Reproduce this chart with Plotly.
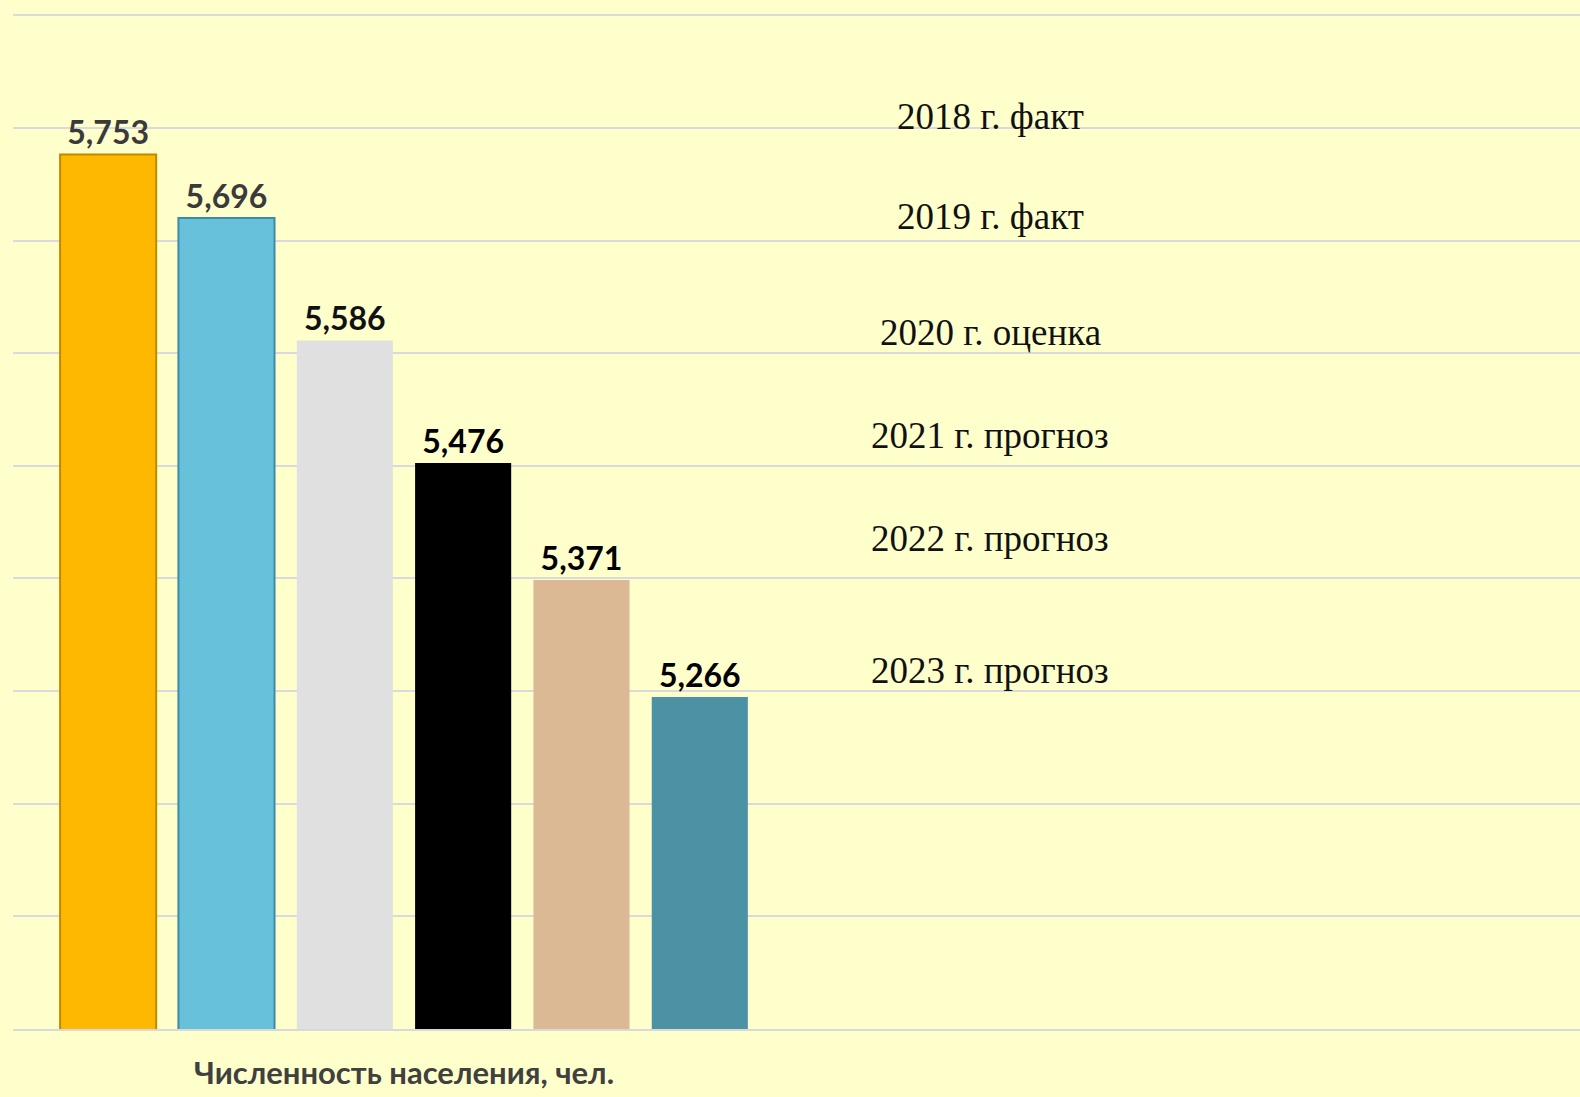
import plotly.graph_objects as go

category = ["Численность населения, чел."]
series_names = ["2018 г. факт", "2019 г. факт", "2020 г. оценка",
                "2021 г. прогноз", "2022 г. прогноз", "2023 г. прогноз"]
values = [5753, 5696, 5586, 5476, 5371, 5266]
colors = ["#FFB800", "#67C1DB", "#E0E0E0", "#000000", "#DAB994", "#4D91A5"]
line_colors = ["#C08A00", "#3C8CA6", "#E0E0E0", "#000000", "#DAB994", "#4D91A5"]
label_colors = ["#3A3A3A", "#3A3A3A", "#111111", "#000000", "#000000", "#000000"]
legend_y = [0.8986, 0.800, 0.686, 0.5837, 0.4823, 0.3533]

fig = go.Figure()
for name, v, c, lc, tc in zip(series_names, values, colors, line_colors, label_colors):
    fig.add_trace(go.Bar(
        name=name, x=category, y=[v],
        marker=dict(color=c, line=dict(color=lc, width=2 if lc != c else 0)),
        texttemplate="%{y:,}", textposition="outside",
        textfont=dict(family="Lato", size=32, color=tc, weight="bold"),
        cliponaxis=False, showlegend=False,
    ))

for name, yy in zip(series_names, legend_y):
    fig.add_annotation(text=name, xref="paper", yref="paper", x=0.6235, y=yy,
                       xanchor="center", yanchor="middle", showarrow=False,
                       font=dict(family="Liberation Serif", size=37, color="#111111"))

base = 4968
step = 101.1
fig.update_layout(
    width=1580, height=1097,
    margin=dict(l=13, r=0, t=13, b=68),
    paper_bgcolor="#FFFFCC", plot_bgcolor="#FFFFCC",
    barmode="group", bargap=0.092, bargroupgap=0.188,
    xaxis=dict(type="category", range=[-0.5, 1.504], showgrid=False,
               showline=True, linecolor="#D9D9D9", linewidth=2, ticks="",
               tickfont=dict(family="Lato", size=31, color="#404040", weight="bold"),
               ticklabelstandoff=16),
    yaxis=dict(range=[base, base + 9 * step + 2], tick0=base, dtick=step,
               showgrid=True, gridcolor="#D9D9DE", gridwidth=1.5,
               showticklabels=False, zeroline=False, ticks=""),
)

fig.write_html("out.html", config={"displayModeBar": False},
               post_script="document.body.style.margin='0';document.body.style.background='#FFFFCC';")
